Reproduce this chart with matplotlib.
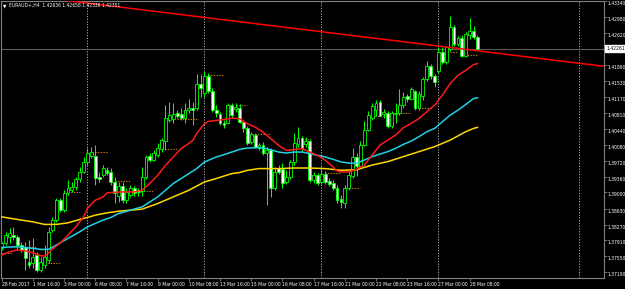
import matplotlib
matplotlib.use("Agg")
import matplotlib.pyplot as plt
import matplotlib.transforms as mtransforms
from matplotlib import font_manager

# ---------------- data ----------------
title_symbol = "EURAUD+,H4"
title_ohlc = "1.42636 1.42658 1.42336 1.42351"

opens = [1.37738, 1.37851, 1.37986, 1.38032, 1.37986, 1.37806, 1.37760, 1.37421, 1.37399, 1.37579,
         1.37240, 1.37353, 1.37466, 1.38145, 1.38371, 1.38823, 1.38597, 1.38981, 1.39049, 1.39117,
         1.39298, 1.39456, 1.39682, 1.39818, 1.39818, 1.39343, 1.39388, 1.39501, 1.39456, 1.39230,
         1.38913, 1.39140, 1.38823, 1.38936, 1.39094, 1.39049, 1.39027, 1.39343, 1.39818, 1.39727,
         1.39840, 1.39976, 1.40157, 1.40632, 1.40654, 1.40790, 1.40767, 1.40677, 1.40858, 1.40903,
         1.40903, 1.41468, 1.41265, 1.41649, 1.41310, 1.40858, 1.40767, 1.40564, 1.40564, 1.40971,
         1.40881, 1.40903, 1.40587, 1.40451, 1.40134, 1.40293, 1.39999, 1.40067, 1.39886, 1.39953,
         1.39094, 1.39547, 1.39524, 1.39230, 1.39343, 1.39682, 1.40089, 1.40225, 1.40089, 1.40157,
         1.39275, 1.39388, 1.39230, 1.39411, 1.39253, 1.39207, 1.39094, 1.38846, 1.38755, 1.39094,
         1.39366, 1.39795, 1.39592, 1.40067, 1.40406, 1.40677, 1.40858, 1.41061, 1.40767, 1.40790,
         1.40496, 1.40767, 1.40790, 1.40971, 1.41197, 1.41129, 1.41310, 1.40903, 1.41197, 1.41581,
         1.41875, 1.41649, 1.41762, 1.42192, 1.41966, 1.42260, 1.42757, 1.42373, 1.42508, 1.42101,
         1.42576, 1.42667, 1.42531]
highs = [1.37873, 1.38099, 1.38190, 1.38213, 1.38032, 1.37873, 1.37873, 1.37919, 1.37964, 1.37647,
         1.37534, 1.37806, 1.38213, 1.38439, 1.38868, 1.38868, 1.39049, 1.39275, 1.39230, 1.39343,
         1.39569, 1.39795, 1.39999, 1.40021, 1.40067, 1.39456, 1.39614, 1.39569, 1.39547, 1.39343,
         1.39230, 1.39230, 1.39094, 1.39162, 1.39140, 1.39094, 1.39569, 1.39840, 1.39886, 1.39953,
         1.40112, 1.40225, 1.40971, 1.41039, 1.41016, 1.40858, 1.40903, 1.41016, 1.41129, 1.41039,
         1.41694, 1.41694, 1.41762, 1.41717, 1.41378, 1.40971, 1.40813, 1.40632, 1.41016, 1.41016,
         1.41016, 1.40994, 1.40632, 1.40496, 1.40360, 1.40338, 1.40112, 1.40134, 1.40021, 1.39999,
         1.39569, 1.39614, 1.39660, 1.39501, 1.39727, 1.40338, 1.40474, 1.40270, 1.40247, 1.40202,
         1.39456, 1.39433, 1.39569, 1.39479, 1.39320, 1.39275, 1.39162, 1.38936, 1.39162, 1.39456,
         1.39999, 1.39886, 1.40157, 1.40609, 1.40835, 1.41016, 1.41084, 1.41084, 1.40881, 1.40835,
         1.40835, 1.41016, 1.41355, 1.41287, 1.41242, 1.41401, 1.41333, 1.41310, 1.41627, 1.41988,
         1.41921, 1.41694, 1.42305, 1.42305, 1.42328, 1.43006, 1.42802, 1.42554, 1.42576, 1.42644,
         1.42961, 1.42780, 1.42576]
lows = [1.37692, 1.37806, 1.37851, 1.37919, 1.37692, 1.37647, 1.37240, 1.37286, 1.37286, 1.37195,
        1.37195, 1.37286, 1.37399, 1.38099, 1.38326, 1.38552, 1.38552, 1.38936, 1.39004, 1.39049,
        1.39230, 1.39433, 1.39614, 1.39773, 1.39162, 1.39230, 1.39343, 1.39388, 1.39162, 1.38755,
        1.38778, 1.38755, 1.38755, 1.38891, 1.38913, 1.38913, 1.38913, 1.39298, 1.39682, 1.39705,
        1.39795, 1.39908, 1.39953, 1.40587, 1.40564, 1.40677, 1.40632, 1.40564, 1.40790, 1.40519,
        1.40858, 1.41152, 1.41152, 1.41265, 1.40813, 1.40700, 1.40519, 1.40451, 1.40541, 1.40677,
        1.40813, 1.40564, 1.40360, 1.40067, 1.40089, 1.39999, 1.39953, 1.39840, 1.38710, 1.38891,
        1.39049, 1.39411, 1.39094, 1.39185, 1.39298, 1.39614, 1.40021, 1.39908, 1.40021, 1.39230,
        1.39207, 1.39162, 1.39185, 1.39185, 1.39140, 1.39049, 1.38755, 1.38642, 1.38642, 1.39049,
        1.39320, 1.39366, 1.39547, 1.40044, 1.40383, 1.40632, 1.40722, 1.40722, 1.40677, 1.40451,
        1.40451, 1.40564, 1.40745, 1.40903, 1.41061, 1.41084, 1.40858, 1.40858, 1.41084, 1.41536,
        1.41581, 1.41401, 1.41717, 1.41921, 1.41921, 1.42214, 1.42328, 1.42328, 1.42079, 1.42079,
        1.42486, 1.42486, 1.42261]
closes = [1.37851, 1.38032, 1.38077, 1.37986, 1.37806, 1.37692, 1.37512, 1.37353, 1.37534, 1.37240,
          1.37421, 1.37534, 1.38099, 1.38371, 1.38823, 1.38597, 1.38981, 1.39094, 1.39117, 1.39298,
          1.39456, 1.39682, 1.39886, 1.39908, 1.39320, 1.39298, 1.39547, 1.39433, 1.39230, 1.38981,
          1.39140, 1.38823, 1.39004, 1.39094, 1.38981, 1.39004, 1.39343, 1.39795, 1.39727, 1.39886,
          1.39999, 1.40180, 1.40677, 1.40745, 1.40767, 1.40722, 1.40677, 1.40858, 1.40903, 1.40858,
          1.41468, 1.41378, 1.41649, 1.41310, 1.40858, 1.40790, 1.40564, 1.40519, 1.40971, 1.40745,
          1.40926, 1.40587, 1.40451, 1.40112, 1.40315, 1.40021, 1.40067, 1.39886, 1.39953, 1.39094,
          1.39456, 1.39456, 1.39207, 1.39343, 1.39682, 1.40112, 1.40225, 1.39999, 1.40157, 1.39275,
          1.39388, 1.39207, 1.39411, 1.39230, 1.39185, 1.39094, 1.38823, 1.38778, 1.39094, 1.39388,
          1.39795, 1.39592, 1.40067, 1.40406, 1.40745, 1.40948, 1.41016, 1.40722, 1.40813, 1.40496,
          1.40790, 1.40790, 1.40971, 1.41174, 1.41129, 1.41355, 1.40903, 1.41220, 1.41581, 1.41875,
          1.41649, 1.41514, 1.42192, 1.41966, 1.42305, 1.42757, 1.42373, 1.42508, 1.42101, 1.42599,
          1.42667, 1.42531, 1.42261]

red_ma_bars = [0, 2, 4, 6, 8, 10, 11, 12, 13, 15, 17, 19, 21, 22, 24, 26, 27, 29, 31, 34, 36, 38, 40,
               42, 44, 46, 48, 49, 50, 52, 53, 55, 57, 59, 61, 63, 65, 67, 69, 71, 73, 75, 77, 79, 81,
               83, 85, 86, 87, 89, 91, 93, 95, 97, 99, 101, 103, 105, 107, 109, 111, 113, 115, 117,
               119, 121, 122]
red_ma_vals = [1.37579, 1.37654, 1.37692, 1.37677, 1.37631, 1.37564, 1.37557, 1.37625, 1.37715, 1.37851,
               1.38032, 1.38219, 1.38445, 1.38642, 1.38823, 1.38898, 1.38988, 1.39004, 1.39011, 1.39011,
               1.39049, 1.39207, 1.39388, 1.39614, 1.39802, 1.39992, 1.40112, 1.40180, 1.40338, 1.40557,
               1.40609, 1.40632, 1.40654, 1.40684, 1.40670, 1.40557, 1.40480, 1.40368, 1.40218, 1.40067,
               1.39953, 1.39969, 1.39992, 1.39915, 1.39840, 1.39727, 1.39576, 1.39486, 1.39463, 1.39463,
               1.39524, 1.39621, 1.39847, 1.40073, 1.40186, 1.40300, 1.40467, 1.40564, 1.40677, 1.40829,
               1.40978, 1.41204, 1.41468, 1.41656, 1.41769, 1.41898, 1.41921]

cyan_ma_bars = [0, 4, 8, 10, 12, 14, 17, 20, 22, 24, 26, 28, 30, 33, 36, 38, 40, 42, 44, 46, 48, 50,
                52, 53, 55, 57, 59, 61, 63, 66, 68, 71, 73, 75, 77, 79, 81, 83, 85, 87, 89, 91, 93,
                95, 97, 99, 101, 103, 105, 107, 109, 111, 113, 115, 117, 119, 121, 122]
cyan_ma_vals = [1.37753, 1.37767, 1.37731, 1.37708, 1.37708, 1.37806, 1.37957, 1.38106, 1.38219, 1.38296,
                1.38371, 1.38432, 1.38522, 1.38597, 1.38672, 1.38785, 1.38898, 1.39049, 1.39201, 1.39314,
                1.39427, 1.39540, 1.39689, 1.39727, 1.39802, 1.39856, 1.39915, 1.39976, 1.40006, 1.40015,
                1.39992, 1.39915, 1.39893, 1.39915, 1.39915, 1.39879, 1.39840, 1.39802, 1.39750, 1.39689,
                1.39666, 1.39664, 1.39734, 1.39811, 1.39870, 1.39924, 1.39999, 1.40089, 1.40164, 1.40263,
                1.40376, 1.40451, 1.40602, 1.40752, 1.40865, 1.40994, 1.41129, 1.41145]

yellow_ma_bars = [0, 4, 8, 11, 14, 17, 20, 22, 24, 27, 30, 36, 40, 44, 48, 52, 55, 59, 61, 63, 66, 71,
                  75, 79, 83, 87, 91, 95, 99, 103, 107, 111, 115, 119, 121, 122]
yellow_ma_vals = [1.38445, 1.38387, 1.38332, 1.38274, 1.38274, 1.38310, 1.38387, 1.38432, 1.38484, 1.38536,
                  1.38574, 1.38620, 1.38748, 1.38898, 1.39049, 1.39237, 1.39314, 1.39427, 1.39451, 1.39501,
                  1.39540, 1.39540, 1.39553, 1.39553, 1.39540, 1.39501, 1.39513, 1.39621, 1.39698, 1.39811,
                  1.39924, 1.40037, 1.40186, 1.40376, 1.40451, 1.40474]

trend_bars = [0, 154.4]
trend_prices = [1.43530, 1.41860]

bid_price = 1.42261
bid_label = "1.42261"

level_start = [0, 5, 11, 17, 24, 29, 33, 41, 45, 53, 60, 65, 77, 83, 89, 95, 100, 107, 113, 118]
level_end = [3, 9, 15, 20, 27, 33, 39, 45, 50, 57, 63, 69, 79, 87, 92, 99, 105, 110, 117, 122]
level_price = [1.37625, 1.37767, 1.37405, 1.39004, 1.39915, 1.39253, 1.39027, 1.39992, 1.40670, 1.41665,
               1.40971, 1.40315, 1.40218, 1.39440, 1.39110, 1.40738, 1.40790, 1.40903, 1.42185, 1.42124]

separator_bars = [22, 52, 82, 112, 148]

xtick_bars = [0, 8, 16, 24, 32, 40, 48, 56, 64, 72, 80, 88, 96, 104, 112, 120]
xtick_labels = ["28 Feb 2017", "1 Mar 16:00", "3 Mar 00:00", "6 Mar 08:00", "7 Mar 16:00",
                "9 Mar 00:00", "10 Mar 08:00", "13 Mar 16:00", "15 Mar 00:00", "16 Mar 08:00",
                "17 Mar 16:00", "21 Mar 00:00", "22 Mar 08:00", "23 Mar 16:00", "27 Mar 00:00",
                "28 Mar 08:00"]
ytick_values = [1.43340, 1.42980, 1.42620, 1.41890, 1.41530, 1.41170, 1.40810, 1.40440, 1.40080,
                1.39720, 1.39360, 1.39000, 1.38630, 1.38270, 1.37910, 1.37550, 1.37190]
ytick_labels = ["1.43340", "1.42980", "1.42620", "1.41890", "1.41530", "1.41170", "1.40810",
                "1.40440", "1.40080", "1.39720", "1.39360", "1.39000", "1.38630", "1.38270",
                "1.37910", "1.37550", "1.37190"]

# ---------------- styling ----------------
BG = "black"
CANDLE = "#00ff00"
GRID_GREY = "#808080"

installed = {f.name for f in font_manager.fontManager.ttflist}
if "Liberation Sans Narrow" in installed:
    FONT = dict(family="Liberation Sans Narrow")
    FS = 4.3
else:
    FONT = dict(family="DejaVu Sans", stretch="condensed")
    FS = 3.6
plt.rcParams['font.family'] = [FONT["family"], "DejaVu Sans"]
if "stretch" in FONT:
    plt.rcParams['font.stretch'] = FONT["stretch"]

W, H = 625, 289
fig = plt.figure(figsize=(W / 100, H / 100), dpi=100, facecolor=BG)
ax = fig.add_axes([1 / W, 11 / H, 603 / W, 277 / H], facecolor=BG)

ax.set_xlim(-0.18, 154.44)
ax.set_ylim(1.37059, 1.43322)

# period separators
for b in separator_bars:
    ax.axvline(b, color="#b0b0b0", lw=0.7, ls=(0, (1.2, 1.6)), zorder=1)

# bid line
ax.axhline(bid_price, color="#5a5a5a", lw=0.8, zorder=1.5)

# candles
n = len(opens)
xs = list(range(n))
ax.vlines(xs, lows, highs, color=CANDLE, lw=0.75, zorder=3)
for i in xs:
    o, c = opens[i], closes[i]
    bottom = min(o, c)
    height = abs(c - o)
    face = "black" if c >= o else "white"
    ax.bar(i, height, bottom=bottom, width=0.72, facecolor=face, edgecolor=CANDLE,
           linewidth=0.6, zorder=4)

# fractal levels
ax.hlines(level_price, level_start, level_end, colors="#c27a12", lw=0.8,
          linestyles=[(0, (1.2, 1.2))], zorder=2)

# moving averages
ax.plot(yellow_ma_bars, yellow_ma_vals, color="#ffd700", lw=1.1, zorder=5)
ax.plot(cyan_ma_bars, cyan_ma_vals, color="#1ed2e8", lw=1.1, zorder=5)
ax.plot(red_ma_bars, red_ma_vals, color="#ff1a1a", lw=1.1, zorder=5)

# trend line
ax.plot(trend_bars, trend_prices, color="#ff0000", lw=1.1, zorder=6)

# axes styling
for s in ax.spines.values():
    s.set_color(GRID_GREY)
    s.set_linewidth(0.8)

ax.yaxis.tick_right()
ax.set_yticks(ytick_values)
ax.set_yticklabels(ytick_labels)
ax.set_xticks(xtick_bars)
ax.set_xticklabels(xtick_labels)
ax.tick_params(axis="both", colors=GRID_GREY, labelcolor="white", labelsize=FS,
               length=2.0, width=0.6, direction="out")
ax.tick_params(axis="y", pad=0.8)
ax.tick_params(axis="x", pad=1.0)
for lbl in ax.get_yticklabels():
    lbl.set_va("top")
for lbl in ax.get_xticklabels():
    lbl.set_ha("left")

# bid label on price scale
trans = mtransforms.blended_transform_factory(ax.transAxes, ax.transData)
ax.text(1.0035, bid_price, bid_label, transform=trans, fontsize=FS, color="black",
        va="center", ha="left", zorder=10, clip_on=False,
        bbox=dict(boxstyle="square,pad=0.15", facecolor="white", edgecolor="white"))

# title
fig.text(2.5 / W, 1 - 5.5 / H, "\u25bc", color="white", fontsize=3.4, va="center", ha="left",
         family="DejaVu Sans")
fig.text(9 / W, 1 - 5.5 / H, title_symbol + "  " + title_ohlc, color="white", fontsize=FS,
         va="center", ha="left")

fig.savefig("out.png", dpi=100, facecolor=BG)
